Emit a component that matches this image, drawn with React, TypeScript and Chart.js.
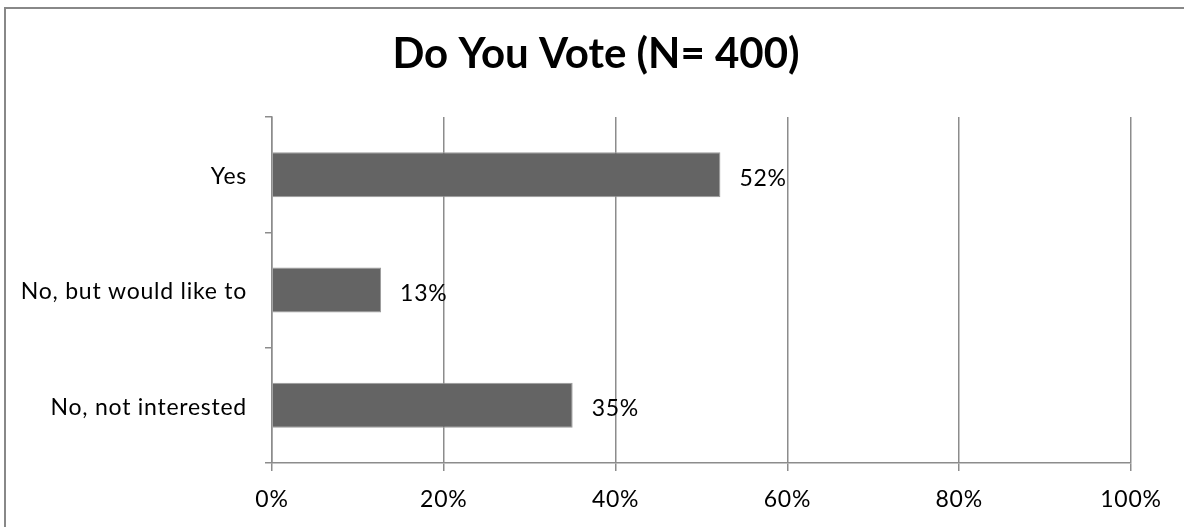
import React, { useEffect, useRef } from "react";
import { Chart, registerables } from "chart.js";

Chart.register(...registerables);

const categories = ["Yes", "No, but would like to", "No, not interested"];
const values = [52.2, 12.7, 35.0];
const xTicks = [0, 20, 40, 60, 80, 100];
const titleText = "Do You Vote (N= 400)";

const FONT = "Lato, 'Open Sans', sans-serif";
const GRID = "#8c8c8c";

export default function App() {
  const ref = useRef<HTMLCanvasElement | null>(null);

  useEffect(() => {
    document.body.style.margin = "0";
    const canvas = ref.current;
    if (!canvas) return;

    const borderPlugin = {
      id: "outerBorder",
      beforeDraw(chart: any) {
        const ctx = chart.ctx;
        ctx.letterSpacing = "0.75px";
        ctx.save();
        ctx.fillStyle = "#ffffff";
        ctx.fillRect(0, 0, chart.width, chart.height);
        ctx.strokeStyle = "#888888";
        ctx.lineWidth = 2;
        ctx.beginPath();
        ctx.moveTo(5, chart.height + 5);
        ctx.lineTo(5, 8);
        ctx.lineTo(chart.width + 5, 8);
        ctx.stroke();
        // title
        ctx.letterSpacing = "0px";
        ctx.font = `bold 42px ${FONT}`;
        ctx.fillStyle = "#000000";
        ctx.textAlign = "center";
        ctx.textBaseline = "alphabetic";
        ctx.fillText(titleText, 596, 68);
        ctx.restore();
      },
    };

    const labelPlugin = {
      id: "valueLabels",
      afterDatasetsDraw(chart: any) {
        const ctx = chart.ctx;
        const meta = chart.getDatasetMeta(0);
        ctx.save();
        ctx.font = `23px ${FONT}`;
        ctx.fillStyle = "#000000";
        ctx.textAlign = "left";
        ctx.textBaseline = "alphabetic";
        meta.data.forEach((bar: any, i: number) => {
          const v = chart.data.datasets[0].data[i] as number;
          ctx.fillText(Math.round(v) + "%", bar.x + 19, bar.y + 11);
        });
        ctx.restore();
      },
    };

    const chart = new Chart(canvas, {
      type: "bar",
      data: {
        labels: categories,
        datasets: [
          {
            data: values,
            backgroundColor: "#646464",
            borderColor: "#9a9a9a",
            borderWidth: 1,
            barPercentage: 0.39,
            categoryPercentage: 1,
          },
        ],
      },
      options: {
        indexAxis: "y",
        responsive: false,
        animation: false,
        layout: { padding: { left: 0, right: 53, top: 117, bottom: 0 } },
        plugins: {
          legend: { display: false },
          tooltip: { enabled: false },
          title: { display: false },
        },
        scales: {
          x: {
            type: "linear",
            min: 0,
            max: 100,
            afterBuildTicks(scale: any) {
              scale.ticks = xTicks.map((v) => ({ value: v }));
            },
            afterFit(scale: any) {
              scale.height = 64;
            },
            ticks: {
              color: "#000000",
              font: { family: FONT, size: 23 },
              padding: 15,
              callback: (v: any) => v + "%",
            },
            grid: {
              color: GRID,
              lineWidth: 1.5,
              drawTicks: true,
              tickLength: 8,
            },
            border: { display: true, color: GRID, width: 1.5 },
          },
          y: {
            type: "category",
            afterFit(scale: any) {
              scale.width = 272;
            },
            ticks: {
              color: "#000000",
              font: { family: FONT, size: 23 },
              padding: 18,
              labelOffset: 2,
            },
            grid: {
              drawOnChartArea: false,
              drawTicks: true,
              tickLength: 7,
              offset: true,
              color: GRID,
              lineWidth: 1.5,
            },
            border: { display: true, color: GRID, width: 1.5 },
          },
        },
      },
      plugins: [borderPlugin, labelPlugin],
    });

    return () => chart.destroy();
  }, []);

  return (
    <div style={{ position: "fixed", left: 0, top: 0, width: 1184, height: 527 }}>
      <canvas ref={ref} width={1184} height={527} style={{ width: 1184, height: 527 }} />
    </div>
  );
}
